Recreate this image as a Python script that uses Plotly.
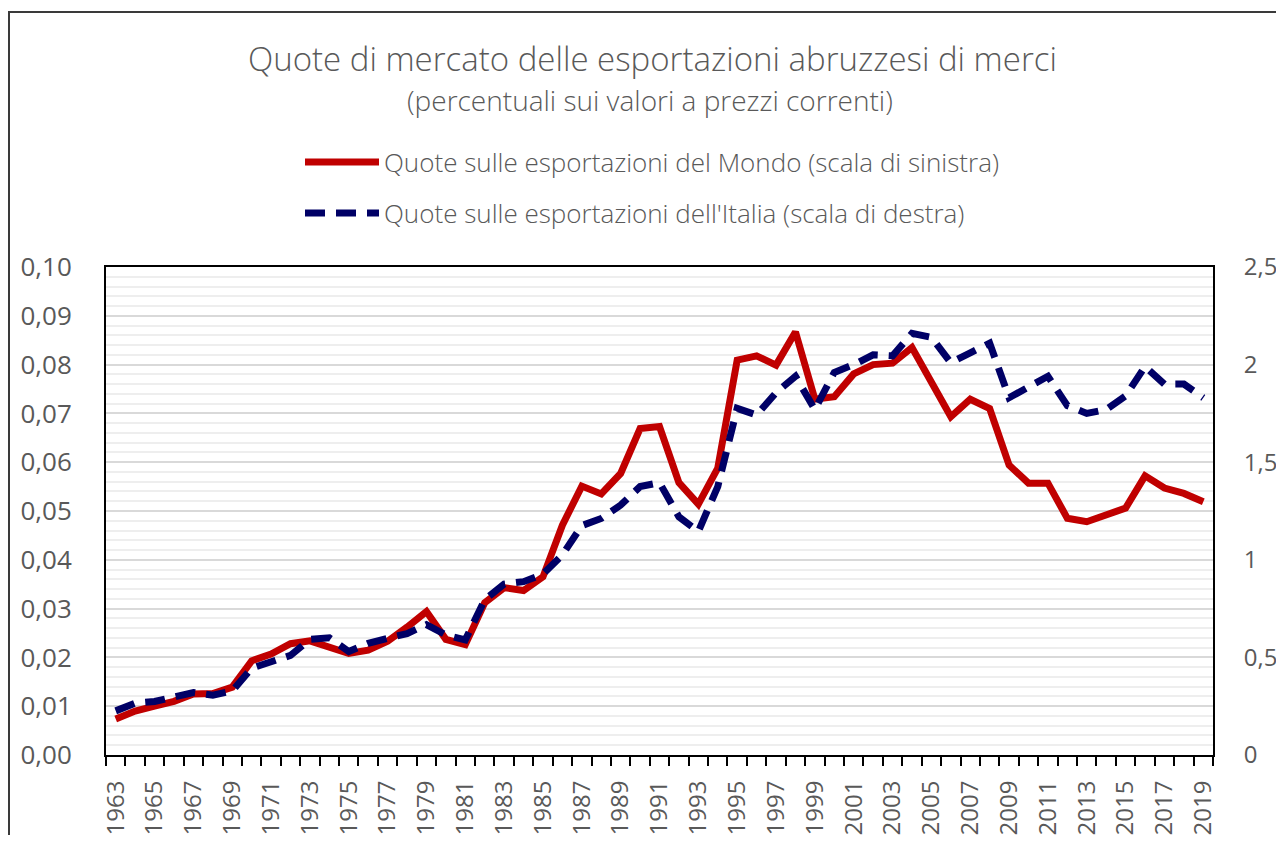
import plotly.graph_objects as go

years = list(range(1963, 2020))

mondo = [
    0.0074, 0.0090, 0.0100, 0.0110, 0.0125, 0.0126, 0.0139,
    0.0193, 0.0207, 0.0228, 0.0234, 0.0222, 0.0208, 0.0215, 0.0233, 0.0262, 0.0294,
    0.0237, 0.0226, 0.0312, 0.0343, 0.0337, 0.0365, 0.0471, 0.0551, 0.0535, 0.0577,
    0.0669, 0.0673, 0.0558, 0.0514, 0.0588, 0.0809, 0.0818, 0.0799, 0.0867, 0.0729,
    0.0734, 0.0781, 0.0800, 0.0803, 0.0835, 0.0765, 0.0693, 0.0729, 0.0710, 0.0594,
    0.0557, 0.0557, 0.0485, 0.0478, 0.0492, 0.0506, 0.0572, 0.0547, 0.0536, 0.0519,
]

italia = [
    0.226, 0.265, 0.274, 0.294, 0.320, 0.306, 0.328,
    0.445, 0.482, 0.510, 0.592, 0.600, 0.530, 0.572, 0.598, 0.622, 0.668,
    0.615, 0.590, 0.795, 0.876, 0.888, 0.927, 1.025, 1.175, 1.212, 1.280,
    1.375, 1.395, 1.220, 1.145, 1.375, 1.776, 1.742, 1.856, 1.940, 1.770,
    1.960, 2.000, 2.050, 2.045, 2.160, 2.140, 2.010, 2.060, 2.110, 1.830,
    1.890, 1.940, 1.790, 1.750, 1.770, 1.840, 1.990, 1.900, 1.900, 1.830,
]

title = "Quote di mercato delle esportazioni abruzzesi di merci"
subtitle = "(percentuali sui valori a prezzi correnti)"
name_mondo = "Quote sulle esportazioni del Mondo (scala di sinistra)"
name_italia = "Quote sulle esportazioni dell'Italia (scala di destra)"

RED = "#C00000"
NAVY = "#000066"
GRAY = "#595959"
FONT = "Open Sans"
DASH = "20px,11px"

# page offset (default body margin) and target geometry in screen pixels
OFF = 8
FW, FH = 1284 - 2 * OFF, 843 - 2 * OFF
L, R, T, B = 106, 1213, 267, 755
W, H = R - L, B - T


def px(x):
    return (x - L) / W


def py(y):
    return (B - y) / H


fig = go.Figure()
fig.add_trace(go.Scatter(
    x=years, y=mondo, name=name_mondo, mode="lines",
    line=dict(color=RED, width=7), yaxis="y", showlegend=False,
))
fig.add_trace(go.Scatter(
    x=years, y=italia, name=name_italia, mode="lines",
    line=dict(color=NAVY, width=7, dash=DASH), yaxis="y2", showlegend=False,
))

fig.update_layout(
    width=FW, height=FH,
    margin=dict(l=L - OFF, r=(OFF + FW) - R, t=T - OFF, b=(OFF + FH) - B),
    paper_bgcolor="white", plot_bgcolor="white",
    separators=",.",
    font=dict(family=FONT, color=GRAY, size=24),
    xaxis=dict(
        range=[1962.5, 2019.5], automargin=False,
        tickmode="array", tickvals=years[::2], ticktext=[str(y) for y in years[::2]],
        tickangle=-90, ticks="", ticklabelstandoff=14,
        tickfont=dict(size=24, color=GRAY),
        showgrid=False, zeroline=False,
        showline=True, linecolor="black", linewidth=2, mirror=True,
        minor=dict(tickmode="linear", tick0=1962.5, dtick=1, ticks="outside",
                   ticklen=9, tickwidth=2, tickcolor="black", showgrid=False),
    ),
    yaxis=dict(
        range=[0, 0.1], automargin=False,
        tickmode="linear", tick0=0, dtick=0.01, tickformat=".2f",
        ticks="", ticklabelstandoff=27,
        tickfont=dict(size=26, color=GRAY),
        showgrid=True, gridcolor="#D9D9D9", gridwidth=1.5, zeroline=False,
        showline=True, linecolor="black", linewidth=2,
        minor=dict(tickmode="linear", tick0=0, dtick=0.002, showgrid=True,
                   gridcolor="#EEEEEE", gridwidth=1.5, ticks=""),
    ),
    yaxis2=dict(
        range=[0, 2.5], automargin=False,
        tickmode="linear", tick0=0, dtick=0.5,
        overlaying="y", side="right", anchor="x",
        ticks="", ticklabelstandoff=24,
        tickfont=dict(size=24, color=GRAY),
        showgrid=False, zeroline=False,
        showline=True, linecolor="black", linewidth=2,
    ),
)

# outer chart border (cropped at right and bottom in the reference)
fig.add_shape(type="rect", xref="paper", yref="paper",
              x0=px(9), x1=px(1300), y0=py(860), y1=py(12),
              line=dict(color="#3a3a3a", width=2), fillcolor="rgba(0,0,0,0)", layer="above")

# titles
fig.add_annotation(text=title, xref="paper", yref="paper", x=px(652), y=py(58),
                   xanchor="center", yanchor="middle", showarrow=False,
                   font=dict(family=FONT, size=33, color=GRAY, weight=300))
fig.add_annotation(text=subtitle, xref="paper", yref="paper", x=px(650), y=py(100),
                   xanchor="center", yanchor="middle", showarrow=False,
                   font=dict(family=FONT, size=28, color=GRAY, weight=300))

# custom legend
for yy, color, dash, label in [(162, RED, "solid", name_mondo),
                               (213, NAVY, DASH, name_italia)]:
    fig.add_shape(type="line", xref="paper", yref="paper",
                  x0=px(305), x1=px(379), y0=py(yy), y1=py(yy),
                  line=dict(color=color, width=7, dash=dash))
    fig.add_annotation(text=label, xref="paper", yref="paper", x=px(382), y=py(yy),
                       xanchor="left", yanchor="middle", showarrow=False,
                       font=dict(family=FONT, size=26, color=GRAY, weight=300))

fig.write_html("out.html")
